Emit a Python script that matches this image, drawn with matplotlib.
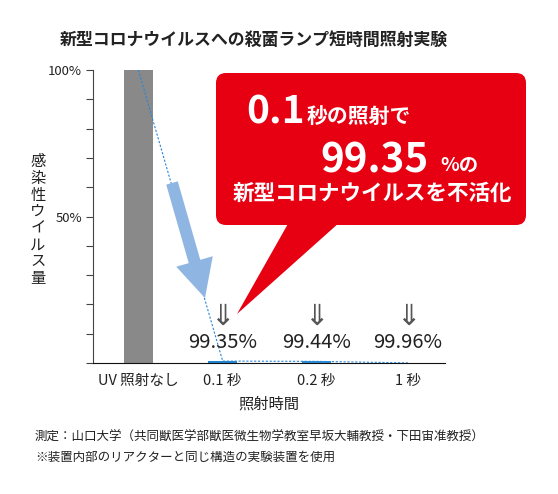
import matplotlib
matplotlib.use("Agg")
import matplotlib.pyplot as plt
from matplotlib.patches import FancyBboxPatch, Polygon, FancyArrow

plt.rcParams["font.family"] = ["Noto Sans CJK JP", "DejaVu Sans"]

# --- data ---
categories = ["UV 照射なし", "0.1 秒", "0.2 秒", "1 秒"]
positions = [0.0, 0.91, 1.92, 2.91]
infectivity = [100.0, 0.65, 0.56, 0.04]  # remaining virus (%)
reduction_labels = ["99.35%", "99.44%", "99.96%"]
bar_colors = ["#898989", "#1f86d3", "#2b8fd8", "#8cc3ea"]

title = "新型コロナウイルスへの殺菌ランプ短時間照射実験"
ylabel = "感染性ウイルス量"
xlabel = "照射時間"
notes = [
    "測定：山口大学（共同獣医学部獣医微生物学教室早坂大輔教授・下田宙准教授）",
    "※装置内部のリアクターと同じ構造の実験装置を使用",
]

W, H = 558, 494
fig = plt.figure(figsize=(W / 100, H / 100), dpi=100)


def fx(px):
    return px / W


def fy(py):
    return 1 - py / H


ax = fig.add_axes([fx(93), fy(363), fx(445) - fx(93), fy(70) - fy(363)])
ax.bar(positions, infectivity, width=0.31, color=bar_colors, zorder=2)
ax.plot(positions, infectivity, linestyle=(0, (2, 1.5)), color="#2a86d6",
        linewidth=0.8, zorder=3)

ax.set_xlim(-0.49, 3.31)
ax.set_ylim(0, 100)
ax.set_xticks(positions)
ax.set_xticklabels(categories, fontsize=10.5, color="#222222")
ax.tick_params(axis="x", length=0, pad=8)
ax.set_yticks(range(0, 101, 10))
ax.set_yticklabels(["" if v not in (50, 100) else f"{v}%" for v in range(0, 101, 10)],
                   fontsize=9.5, color="#222222")
ax.tick_params(axis="y", length=5, width=0.8, color="#444444", pad=3)
for side in ("top", "right"):
    ax.spines[side].set_visible(False)
ax.spines["left"].set_color("#444444")
ax.spines["bottom"].set_color("#111111")
ax.set_xlabel(xlabel, fontsize=11, color="#222222", labelpad=5)

for pos, lab in zip(positions[1:], reduction_labels):
    ax.annotate(lab, (pos, 0), xytext=(0, 14.5), textcoords="offset points",
                ha="center", va="center", fontsize=14.5, color="#222222")
    ax.annotate("⇓", (pos, 0), xytext=(0, 33), textcoords="offset points",
                ha="center", va="center", fontsize=21, color="#555555",
                family=["Noto Sans CJK JP", "DejaVu Sans"])

# overlay in pixel coordinates for decorations
ov = fig.add_axes([0, 0, 1, 1], zorder=5)
ov.set_xlim(0, W)
ov.set_ylim(H, 0)
ov.axis("off")
ov.patch.set_alpha(0)

ov.text(254, 40, title, ha="center", va="center", fontsize=12.2,
        fontweight="bold", color="#222222")
ov.text(38, 220, "\n".join(ylabel), ha="center", va="center", fontsize=11,
        color="#222222", linespacing=0.97)
ov.text(35, 437, notes[0], ha="left", va="center", fontsize=9, color="#222222")
ov.text(35, 457, notes[1], ha="left", va="center", fontsize=9, color="#222222")

# blue arrow
ov.add_patch(FancyArrow(172, 183, 33, 115, width=12, head_width=38,
                        head_length=38, length_includes_head=True,
                        color="#8fb5e2", linewidth=0))

# red callout
red = "#e60012"
ov.add_patch(FancyBboxPatch((216, 73), 310, 152,
                            boxstyle="round,pad=0,rounding_size=10",
                            facecolor=red, edgecolor="none"))
ov.add_patch(Polygon([(289, 222), (340, 222), (237, 314)], closed=True,
                     facecolor=red, edgecolor="none"))

ov.text(246, 123, "0.1", ha="left", va="baseline", fontsize=28,
        fontweight="bold", color="white")
ov.text(307, 123, "秒の照射で", ha="left", va="baseline", fontsize=15,
        fontweight="bold", color="white")
ov.text(320, 172, "99.35", ha="left", va="baseline", fontsize=29,
        fontweight="bold", color="white")
ov.text(440, 171, "%の", ha="left", va="baseline", fontsize=14,
        fontweight="bold", color="white")
ov.text(372, 193, "新型コロナウイルスを不活化", ha="center", va="center",
        fontsize=15.5, fontweight="bold", color="white")

fig.savefig("out.png", dpi=100)
